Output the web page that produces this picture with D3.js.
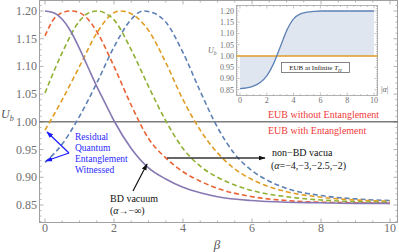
<!DOCTYPE html>
<html>
<head>
<meta charset="utf-8">
<script src="https://cdn.jsdelivr.net/npm/d3@7"></script>
<style>
  body { margin: 0; background: #fff; }
  svg text { font-family: "Liberation Serif", "Times New Roman", serif; }
  .tick-label { fill: #707070; }
</style>
</head>
<body>
<svg width="399" height="252"></svg>
<script>
// values
const betaPurple = [0, 0.25, 0.5, 0.75, 1, 1.25, 1.5, 1.75, 2, 2.5, 3, 3.5, 4, 4.5, 5, 6, 7, 8, 9, 10];
const bdVacuum   = [1.200, 1.197, 1.185, 1.163, 1.132, 1.098, 1.064, 1.033, 1.002, 0.952, 0.917, 0.897, 0.882, 0.872, 0.865, 0.858, 0.855, 0.854, 0.853, 0.853];

const betaRed = [0, 0.25, 0.5, 0.75, 1, 1.25, 1.5, 2, 2.5, 3, 3.5, 4, 4.5, 5, 6, 7, 8, 9, 10];
const alphaM2 = [1.155, 1.185, 1.197, 1.200, 1.197, 1.185, 1.163, 1.100, 1.030, 0.970, 0.935, 0.910, 0.893, 0.880, 0.865, 0.858, 0.855, 0.854, 0.853];

const betaGreen = [0, 0.5, 1, 1.25, 1.5, 1.75, 2, 2.5, 3, 3.5, 4, 4.5, 5, 5.5, 6, 7, 8, 9, 10];
const alphaM25  = [1.052, 1.125, 1.182, 1.196, 1.200, 1.196, 1.184, 1.130, 1.064, 1.002, 0.952, 0.920, 0.900, 0.886, 0.876, 0.865, 0.859, 0.856, 0.855];

const betaOrange = [0, 0.5, 1, 1.5, 2, 2.2, 2.5, 3, 3.5, 4, 4.5, 5, 5.5, 6, 6.5, 7, 8, 9, 10];
const alphaM3    = [0.985, 1.040, 1.100, 1.160, 1.197, 1.200, 1.195, 1.165, 1.107, 1.040, 0.985, 0.944, 0.915, 0.896, 0.883, 0.874, 0.864, 0.859, 0.857];

const betaBlue = [0, 0.5, 1, 1.5, 2, 2.5, 2.85, 3.2, 3.5, 4, 4.5, 5, 5.5, 6, 6.5, 7, 8, 9, 10];
const alphaM4  = [0.927, 0.960, 1.010, 1.070, 1.135, 1.185, 1.200, 1.195, 1.180, 1.125, 1.055, 0.990, 0.942, 0.912, 0.893, 0.880, 0.867, 0.861, 0.858];

// inset: EUB at infinite T_H vs |alpha|
const insetAlpha = [0, 0.5, 1, 1.5, 2, 2.5, 3, 3.5, 4, 4.5, 5, 5.5, 6, 7, 8, 9, 10];
const insetU     = [0.855, 0.858, 0.866, 0.882, 0.912, 0.965, 1.040, 1.115, 1.165, 1.187, 1.195, 1.198, 1.200, 1.200, 1.200, 1.200, 1.200];

const xTicks = [0, 2, 4, 6, 8, 10];
const yTicks = [0.85, 0.90, 0.95, 1.00, 1.05, 1.10, 1.15, 1.20];
const insetYTicks = [0.85, 0.90, 0.95, 1.00, 1.05, 1.10, 1.15, 1.20];
const insetXTicks = [0, 2, 4, 6, 8, 10];

const series = [
  { beta: betaBlue,   u: alphaM4,  color: '#5e81b5', dash: '5,3' },
  { beta: betaOrange, u: alphaM3,  color: '#e19c24', dash: '5,3' },
  { beta: betaGreen,  u: alphaM25, color: '#8fb032', dash: '5,3' },
  { beta: betaRed,    u: alphaM2,  color: '#eb6235', dash: '5,3' },
  { beta: betaPurple, u: bdVacuum, color: '#8778b3', dash: null }
];

const svg = d3.select('svg');
const frame = { left: 39.5, right: 397.5, top: 0.5, bottom: 222.5 };

const x = d3.scaleLinear().domain([0, 10]).range([45, 390]);
const y = d3.scaleLinear().domain([0.85, 1.20]).range([205, 11]);

const frameColor = '#a0a0a0';

// frame
svg.append('rect')
  .attr('x', frame.left).attr('y', frame.top)
  .attr('width', frame.right - frame.left).attr('height', frame.bottom - frame.top)
  .attr('fill', 'none').attr('stroke', frameColor).attr('stroke-width', 1);

// ticks on all four sides
const xMinor = d3.range(0, 10.01, 0.5);
const yMinor = d3.range(0.82, 1.221, 0.01);
xMinor.forEach(v => {
  const major = Math.abs(v / 2 - Math.round(v / 2)) < 1e-6;
  const len = major ? 4 : 2;
  svg.append('line').attr('x1', x(v)).attr('x2', x(v))
    .attr('y1', frame.bottom).attr('y2', frame.bottom - len)
    .attr('stroke', frameColor).attr('stroke-width', 0.8);
  svg.append('line').attr('x1', x(v)).attr('x2', x(v))
    .attr('y1', frame.top).attr('y2', frame.top + len)
    .attr('stroke', frameColor).attr('stroke-width', 0.8);
});
yMinor.forEach(v => {
  const yy = y(v);
  if (yy < frame.top || yy > frame.bottom) return;
  const major = Math.abs(v * 20 - Math.round(v * 20)) < 1e-6;
  const len = major ? 4 : 2;
  svg.append('line').attr('x1', frame.left).attr('x2', frame.left + len)
    .attr('y1', yy).attr('y2', yy)
    .attr('stroke', frameColor).attr('stroke-width', 0.8);
  svg.append('line').attr('x1', frame.right).attr('x2', frame.right - len)
    .attr('y1', yy).attr('y2', yy)
    .attr('stroke', frameColor).attr('stroke-width', 0.8);
});

// tick labels
svg.selectAll('.xlab').data(xTicks).enter().append('text')
  .attr('class', 'tick-label')
  .attr('x', d => x(d)).attr('y', 232)
  .attr('text-anchor', 'middle').attr('font-size', 12)
  .text(d => d);
svg.selectAll('.ylab').data(yTicks).enter().append('text')
  .attr('class', 'tick-label')
  .attr('x', 37).attr('y', d => y(d) + 4)
  .attr('text-anchor', 'end').attr('font-size', 12)
  .text(d => d.toFixed(2));

// axis labels
const ub = svg.append('text').attr('x', 1).attr('y', 118).attr('font-size', 12).attr('fill', '#555');
ub.append('tspan').attr('font-style', 'italic').text('U');
ub.append('tspan').attr('font-style', 'italic').attr('font-size', 8).attr('dy', 3).text('b');
svg.append('text').attr('x', 217).attr('y', 249).attr('text-anchor', 'middle')
  .attr('font-size', 13).attr('font-style', 'italic').attr('fill', '#555').text('β');

// boundary line at U_b = 1
svg.append('line').attr('x1', frame.left).attr('x2', frame.right)
  .attr('y1', y(1)).attr('y2', y(1)).attr('stroke', '#3a3a3a').attr('stroke-width', 1);

// curves
const line = d3.line().x(d => x(d[0])).y(d => y(d[1])).curve(d3.curveMonotoneX);
series.forEach(s => {
  svg.append('path')
    .attr('d', line(s.beta.map((b, i) => [b, s.u[i]])))
    .attr('fill', 'none')
    .attr('stroke', s.color)
    .attr('stroke-width', 1.6)
    .attr('stroke-dasharray', s.dash);
});

// arrow markers
const defs = svg.append('defs');
function marker(id, color) {
  defs.append('marker').attr('id', id)
    .attr('viewBox', '0 0 10 10').attr('refX', 9).attr('refY', 5)
    .attr('markerWidth', 7).attr('markerHeight', 7).attr('orient', 'auto')
    .attr('markerUnits', 'userSpaceOnUse')
    .append('path').attr('d', 'M0,1.5 L10,5 L0,8.5 Z').attr('fill', color);
}
marker('arrBlack', '#111');
marker('arrBlue', '#1a1aff');

// non-BD vacua arrow
svg.append('line').attr('x1', 167).attr('y1', 158).attr('x2', 265).attr('y2', 158)
  .attr('stroke', '#333').attr('stroke-width', 1.3).attr('marker-end', 'url(#arrBlack)');
svg.append('text').attr('x', 272).attr('y', 156).attr('font-size', 10).attr('fill', '#111').text('non−BD vacua');
const nb = svg.append('text').attr('x', 271).attr('y', 169).attr('font-size', 10).attr('fill', '#111');
nb.append('tspan').text('(');
nb.append('tspan').attr('font-style', 'italic').text('α');
nb.append('tspan').text('=−4,−3,−2.5,−2)');

// BD vacuum arrow
svg.append('line').attr('x1', 133).attr('y1', 191).attr('x2', 147).attr('y2', 164)
  .attr('stroke', '#111').attr('stroke-width', 1.2).attr('marker-end', 'url(#arrBlack)');
svg.append('text').attr('x', 110).attr('y', 202).attr('font-size', 10).attr('fill', '#111').text('BD vacuum');
const bd = svg.append('text').attr('x', 110).attr('y', 214).attr('font-size', 10).attr('fill', '#111');
bd.append('tspan').text('(');
bd.append('tspan').attr('font-style', 'italic').text('α');
bd.append('tspan').text('→−∞)');

// residual entanglement annotation
svg.append('line').attr('x1', 69).attr('y1', 153).attr('x2', 47).attr('y2', 132)
  .attr('stroke', '#1a1aff').attr('stroke-width', 1.2).attr('marker-end', 'url(#arrBlue)');
svg.append('line').attr('x1', 69).attr('y1', 153).attr('x2', 46).attr('y2', 161)
  .attr('stroke', '#1a1aff').attr('stroke-width', 1.2).attr('marker-end', 'url(#arrBlue)');
['Residual', 'Quantum', 'Entanglement', 'Witnessed'].forEach((t, i) => {
  svg.append('text').attr('x', 75).attr('y', 140 + i * 11).attr('font-size', 9.5)
    .attr('fill', '#2a2aff').text(t);
});

// EUB labels
svg.append('text').attr('x', 268).attr('y', 118).attr('font-size', 10).attr('fill', '#f03a3a')
  .text('EUB without Entanglement');
svg.append('text').attr('x', 268).attr('y', 134).attr('font-size', 10).attr('fill', '#f03a3a')
  .text('EUB with Entanglement');

// ---- inset ----
const inset = { left: 236.5, right: 377.5, top: 5.5, bottom: 95.5 };
const ix = d3.scaleLinear().domain([0, 10]).range([240, 374]);
const iy = d3.scaleLinear().domain([1.0, 1.2]).range([56, 11]);

svg.append('rect').attr('x', inset.left).attr('y', inset.top)
  .attr('width', inset.right - inset.left).attr('height', inset.bottom - inset.top)
  .attr('fill', '#fff').attr('stroke', frameColor).attr('stroke-width', 0.8);

const insetPts = insetAlpha.map((a, i) => [a, insetU[i]]);
const area = d3.area().x(d => ix(d[0])).y0(iy(1)).y1(d => iy(d[1])).curve(d3.curveMonotoneX);
svg.append('path').attr('d', area(insetPts)).attr('fill', '#dfe6f0');

d3.range(0, 10.01, 0.5).forEach(v => {
  const major = v % 2 === 0;
  const len = major ? 3 : 1.5;
  svg.append('line').attr('x1', ix(v)).attr('x2', ix(v))
    .attr('y1', inset.bottom).attr('y2', inset.bottom - len).attr('stroke', frameColor).attr('stroke-width', 0.6);
  svg.append('line').attr('x1', ix(v)).attr('x2', ix(v))
    .attr('y1', inset.top).attr('y2', inset.top + len).attr('stroke', frameColor).attr('stroke-width', 0.6);
});
d3.range(0.83, 1.2251, 0.01).forEach(v => {
  const yy = iy(v);
  if (yy < inset.top || yy > inset.bottom) return;
  const major = Math.abs(v * 20 - Math.round(v * 20)) < 1e-6;
  const len = major ? 3 : 1.5;
  svg.append('line').attr('x1', inset.left).attr('x2', inset.left + len)
    .attr('y1', yy).attr('y2', yy).attr('stroke', frameColor).attr('stroke-width', 0.6);
  svg.append('line').attr('x1', inset.right).attr('x2', inset.right - len)
    .attr('y1', yy).attr('y2', yy).attr('stroke', frameColor).attr('stroke-width', 0.6);
});

svg.append('line').attr('x1', inset.left).attr('x2', inset.right)
  .attr('y1', iy(1)).attr('y2', iy(1)).attr('stroke', '#e19c24').attr('stroke-width', 1.3);
svg.append('path').attr('d', d3.line().x(d => ix(d[0])).y(d => iy(d[1])).curve(d3.curveMonotoneX)(insetPts))
  .attr('fill', 'none').attr('stroke', '#5e81b5').attr('stroke-width', 1.3);

svg.selectAll('.iylab').data(insetYTicks).enter().append('text')
  .attr('class', 'tick-label')
  .attr('x', 234).attr('y', d => iy(d) + 2.8)
  .attr('text-anchor', 'end').attr('font-size', 8)
  .text(d => d.toFixed(2));
svg.selectAll('.ixlab').data(insetXTicks).enter().append('text')
  .attr('class', 'tick-label')
  .attr('x', d => ix(d)).attr('y', 102.5)
  .attr('text-anchor', 'middle').attr('font-size', 8)
  .text(d => d);

const iub = svg.append('text').attr('x', 208).attr('y', 53).attr('font-size', 8).attr('fill', '#666');
iub.append('tspan').attr('font-style', 'italic').text('U');
iub.append('tspan').attr('font-style', 'italic').attr('font-size', 5.5).attr('dy', 2).text('b');
const ia = svg.append('text').attr('x', 381).attr('y', 92).attr('font-size', 8).attr('fill', '#666');
ia.append('tspan').text('|');
ia.append('tspan').attr('font-style', 'italic').text('α');
ia.append('tspan').text('|');

// legend box in inset
svg.append('rect').attr('x', 281.5).attr('y', 62.5).attr('width', 68).attr('height', 10)
  .attr('fill', '#fff').attr('stroke', '#666').attr('stroke-width', 0.8);
const lt = svg.append('text').attr('x', 315.5).attr('y', 70.2).attr('text-anchor', 'middle')
  .attr('font-size', 7).attr('fill', '#222');
lt.append('tspan').text('EUB at Infinite ');
lt.append('tspan').attr('font-style', 'italic').text('T');
lt.append('tspan').attr('font-style', 'italic').attr('font-size', 5).attr('dy', 1.5).text('H');
</script>
</body>
</html>
